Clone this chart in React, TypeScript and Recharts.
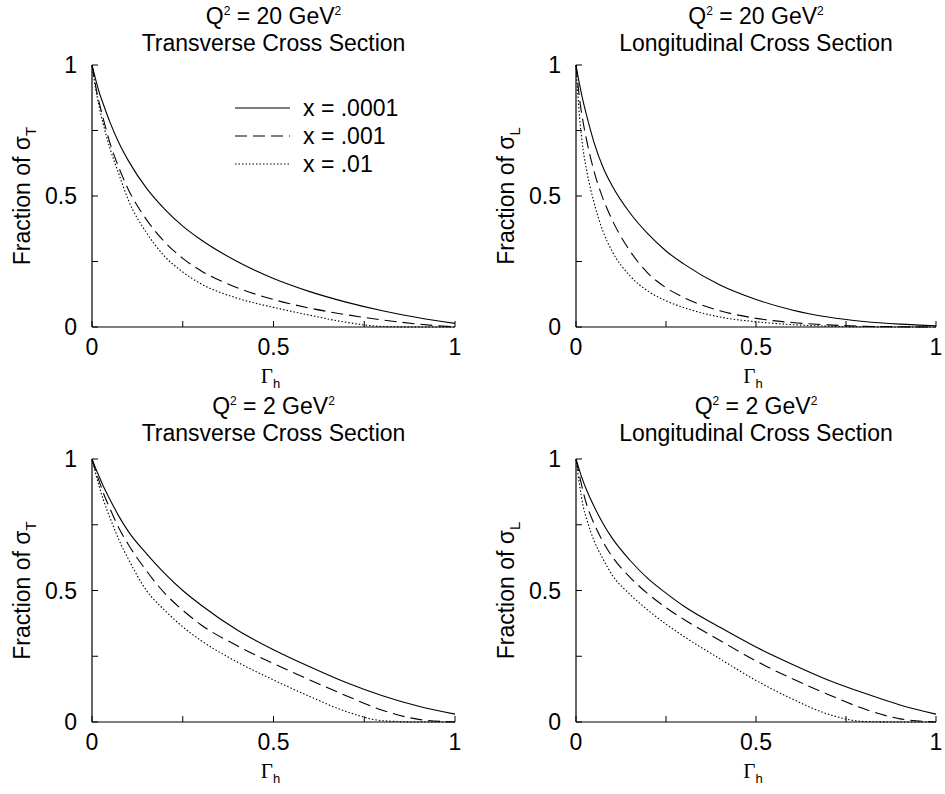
import React from "react";
import { LineChart, Line, XAxis, YAxis, Label, Legend } from "recharts";

// Gamma_h sample points shared by every panel
const gammaH = [0, 0.01, 0.02, 0.03, 0.05, 0.075, 0.1, 0.15, 0.2, 0.25, 0.3, 0.4, 0.5, 0.6, 0.7, 0.8, 0.9, 1.0];

// Q^2 = 20 GeV^2, transverse
const q20TransX0001 = [1, 0.945, 0.895, 0.855, 0.78, 0.7, 0.635, 0.53, 0.45, 0.385, 0.333, 0.25, 0.185, 0.135, 0.095, 0.062, 0.035, 0.014];
const q20TransX001 = [1, 0.92, 0.855, 0.8, 0.7, 0.605, 0.525, 0.41, 0.325, 0.262, 0.215, 0.15, 0.105, 0.072, 0.047, 0.027, 0.011, 0];
const q20TransX01 = [1, 0.91, 0.84, 0.78, 0.68, 0.58, 0.485, 0.36, 0.27, 0.21, 0.165, 0.11, 0.075, 0.045, 0.018, 0.002, 0, 0];

// Q^2 = 20 GeV^2, longitudinal
const q20LongX0001 = [1, 0.925, 0.86, 0.805, 0.705, 0.61, 0.54, 0.435, 0.355, 0.29, 0.24, 0.16, 0.105, 0.065, 0.038, 0.021, 0.011, 0.005];
const q20LongX001 = [1, 0.87, 0.78, 0.71, 0.595, 0.49, 0.41, 0.29, 0.205, 0.15, 0.112, 0.062, 0.033, 0.017, 0.008, 0.003, 0.001, 0];
const q20LongX01 = [1, 0.8, 0.675, 0.595, 0.475, 0.365, 0.29, 0.195, 0.137, 0.1, 0.074, 0.038, 0.02, 0.009, 0.003, 0.001, 0, 0];

// Q^2 = 2 GeV^2, transverse
const q2TransX0001 = [1, 0.965, 0.932, 0.9, 0.845, 0.78, 0.725, 0.64, 0.565, 0.5, 0.445, 0.35, 0.275, 0.21, 0.15, 0.1, 0.06, 0.03];
const q2TransX001 = [1, 0.955, 0.915, 0.875, 0.81, 0.735, 0.675, 0.575, 0.49, 0.425, 0.37, 0.29, 0.222, 0.16, 0.1, 0.045, 0.01, 0];
const q2TransX01 = [1, 0.945, 0.895, 0.85, 0.775, 0.69, 0.62, 0.5, 0.425, 0.362, 0.31, 0.228, 0.16, 0.097, 0.04, 0.005, 0, 0];

// Q^2 = 2 GeV^2, longitudinal
const q2LongX0001 = [1, 0.955, 0.915, 0.88, 0.82, 0.755, 0.7, 0.615, 0.545, 0.49, 0.44, 0.36, 0.285, 0.22, 0.16, 0.11, 0.065, 0.03];
const q2LongX001 = [1, 0.935, 0.875, 0.825, 0.755, 0.685, 0.63, 0.55, 0.487, 0.435, 0.39, 0.31, 0.232, 0.165, 0.105, 0.05, 0.012, 0];
const q2LongX01 = [1, 0.9, 0.82, 0.77, 0.69, 0.62, 0.56, 0.485, 0.425, 0.372, 0.325, 0.24, 0.158, 0.088, 0.03, 0.002, 0, 0];

const seriesNames = ["x = .0001", "x = .001", "x = .01"];
const axisTicks = [0, 0.25, 0.5, 0.75, 1];
const labeledTicks = [0, 0.5, 1];

const FONT = '"Liberation Sans", Arial, Helvetica, sans-serif';
const SERIF = '"Liberation Serif", "DejaVu Serif", serif';
const DASHES = ["0", "12 6", "1.5 2"];

const toRows = (a: number[], b: number[], c: number[]) =>
  gammaH.map((g, i) => ({ g, s0: a[i], s1: b[i], s2: c[i] }));

const fmtTick = (v: number) => (labeledTicks.includes(v) ? String(v) : "");

const renderLegend = (props: any) => (
  <div style={{ fontFamily: FONT, fontSize: 23, color: "#000" }}>
    {(props.payload || []).map((entry: any, i: number) => (
      <div key={i} style={{ display: "flex", alignItems: "center", height: 28 }}>
        <svg width={55} height={10}>
          <line x1={0} x2={55} y1={5} y2={5} stroke="#000" strokeWidth={1.2} strokeDasharray={DASHES[i]} />
        </svg>
        <span style={{ marginLeft: 13, lineHeight: "28px" }}>{entry.value}</span>
      </div>
    ))}
  </div>
);

type PanelProps = {
  left: number;
  top: number;
  width: number;
  height: number;
  yAxisWidth: number;
  marginTop: number;
  marginRight: number;
  xAxisHeight: number;
  q2: string;
  section: string;
  sigmaSub: string;
  rows: any[];
  legend?: boolean;
};

function Panel(p: PanelProps) {
  const plotWidth = p.width - p.yAxisWidth - p.marginRight;
  const yLabel = (props: any) => {
    const vb = props.viewBox;
    const bx = vb.x + vb.width - 62;
    const cy = vb.y + vb.height / 2;
    return (
      <text x={bx} y={cy} transform={`rotate(-90, ${bx}, ${cy})`} textAnchor="middle" fontFamily={FONT} fontSize={23} fill="#000">
        Fraction of σ<tspan fontSize={15} dy={6}>{p.sigmaSub}</tspan>
      </text>
    );
  };
  const xLabel = (props: any) => {
    const vb = props.viewBox;
    const cx = vb.x + vb.width / 2 - 3;
    const by = vb.y + 56;
    return (
      <text x={cx} y={by} textAnchor="middle" fill="#000">
        <tspan fontFamily={SERIF} fontSize={21}>Γ</tspan>
        <tspan fontFamily={FONT} fontSize={13} dy={5}>h</tspan>
      </text>
    );
  };
  return (
    <div style={{ position: "absolute", left: p.left, top: p.top, width: p.width, height: p.height }}>
      <div
        style={{
          position: "absolute",
          left: p.yAxisWidth - 40,
          width: plotWidth + 80,
          top: 5,
          textAlign: "center",
          fontFamily: FONT,
          fontSize: 23,
          lineHeight: "23px",
          color: "#000",
          zIndex: 2,
        }}
      >
        <div>
          Q<span style={{ fontSize: 12, position: "relative", top: -9 }}>2</span> = {p.q2} GeV
          <span style={{ fontSize: 12, position: "relative", top: -9 }}>2</span>
        </div>
        <div>{p.section}</div>
      </div>
      <LineChart
        width={p.width}
        height={p.height}
        data={p.rows}
        margin={{ top: p.marginTop, right: p.marginRight, bottom: 0, left: 0 }}
      >
        <XAxis
          dataKey="g"
          type="number"
          domain={[0, 1]}
          ticks={axisTicks}
          tickFormatter={fmtTick}
          height={p.xAxisHeight}
          tickSize={-6}
          tickMargin={18}
          axisLine={{ stroke: "#000", strokeWidth: 1.2 }}
          tickLine={{ stroke: "#000" }}
          tick={{ fill: "#000", fontSize: 23, fontFamily: FONT }}
          interval={0}
        >
          <Label content={xLabel} />
        </XAxis>
        <XAxis
          xAxisId="top"
          orientation="top"
          type="number"
          domain={[0, 1]}
          ticks={axisTicks}
          height={0}
          tickSize={-6}
          tick={false}
          axisLine={{ stroke: "#000", strokeWidth: 1.2 }}
          tickLine={{ stroke: "#000" }}
          interval={0}
        />
        <YAxis
          type="number"
          domain={[0, 1]}
          ticks={axisTicks}
          tickFormatter={fmtTick}
          width={p.yAxisWidth}
          tickSize={-6}
          tickMargin={21}
          axisLine={{ stroke: "#000", strokeWidth: 1.2 }}
          tickLine={{ stroke: "#000" }}
          tick={{ fill: "#000", fontSize: 23, fontFamily: FONT }}
          interval={0}
        >
          <Label content={yLabel} />
        </YAxis>
        <YAxis
          yAxisId="right"
          orientation="right"
          type="number"
          domain={[0, 1]}
          ticks={axisTicks}
          width={0}
          tickSize={-6}
          tick={false}
          axisLine={{ stroke: "#000", strokeWidth: 1.2 }}
          tickLine={{ stroke: "#000" }}
          interval={0}
        />
        {seriesNames.map((name, i) => (
          <Line
            key={name}
            name={name}
            dataKey={`s${i}`}
            type="monotone"
            stroke="#000"
            strokeWidth={1.1}
            strokeDasharray={DASHES[i]}
            dot={false}
            activeDot={false}
            isAnimationActive={false}
          />
        ))}
        {p.legend && (
          <Legend
            layout="vertical"
            align="center"
            verticalAlign="middle"
            content={renderLegend}
            wrapperStyle={{ left: 235, top: 94, width: "auto", height: "auto" }}
          />
        )}
      </LineChart>
    </div>
  );
}

export default function App() {
  return (
    <div style={{ position: "absolute", left: 0, top: 0, width: 945, height: 794, background: "#fff" }}>
      <Panel
        left={0}
        top={0}
        width={470}
        height={400}
        yAxisWidth={92}
        marginTop={65}
        marginRight={15}
        xAxisHeight={73}
        q2="20"
        section="Transverse Cross Section"
        sigmaSub="T"
        rows={toRows(q20TransX0001, q20TransX001, q20TransX01)}
        legend
      />
      <Panel
        left={470}
        top={0}
        width={475}
        height={400}
        yAxisWidth={106}
        marginTop={65}
        marginRight={9}
        xAxisHeight={73}
        q2="20"
        section="Longitudinal Cross Section"
        sigmaSub="L"
        rows={toRows(q20LongX0001, q20LongX001, q20LongX01)}
      />
      <Panel
        left={0}
        top={390}
        width={470}
        height={404}
        yAxisWidth={92}
        marginTop={69}
        marginRight={15}
        xAxisHeight={72}
        q2="2"
        section="Transverse Cross Section"
        sigmaSub="T"
        rows={toRows(q2TransX0001, q2TransX001, q2TransX01)}
      />
      <Panel
        left={470}
        top={390}
        width={475}
        height={404}
        yAxisWidth={106}
        marginTop={69}
        marginRight={9}
        xAxisHeight={72}
        q2="2"
        section="Longitudinal Cross Section"
        sigmaSub="L"
        rows={toRows(q2LongX0001, q2LongX001, q2LongX01)}
      />
    </div>
  );
}
